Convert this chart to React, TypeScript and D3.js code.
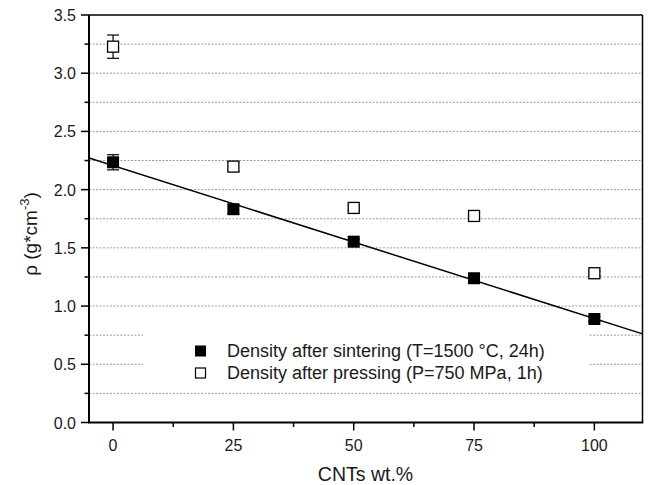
import React from "react";
import * as d3 from "d3";

const cntLevels = [0, 25, 50, 75, 100];
const sinteredDensity = [2.235, 1.832, 1.553, 1.239, 0.889];
const sinteredError = [0.065, 0.04, 0.02, 0.02, 0.02];
const pressedDensity = [3.228, 2.198, 1.843, 1.774, 1.282];
const pressedError = [0.1, 0.04, 0.02, 0.02, 0.02];
const xTicks = [0, 25, 50, 75, 100];
const xMinorTicks = [12.5, 37.5, 62.5, 87.5];
const yTicks = [0.0, 0.5, 1.0, 1.5, 2.0, 2.5, 3.0, 3.5];
const yMinorTicks = [0.25, 0.75, 1.25, 1.75, 2.25, 2.75, 3.25];
const gridLevels = [0.25, 0.5, 0.75, 1.0, 1.25, 1.5, 1.75, 2.0, 2.25, 2.5, 2.75, 3.0, 3.25];
const legendLabels = [
  "Density after sintering (T=1500 °C, 24h)",
  "Density after pressing (P=750 MPa, 1h)",
];

const W = 649;
const H = 485;
const L = 89;
const R = 642.5;
const T = 15;
const B = 422.5;
const FONT = "'Liberation Sans', Arial, sans-serif";

export default function App() {
  const x = d3.scaleLinear().domain([-5, 110]).range([L, R]);
  const y = d3.scaleLinear().domain([0, 3.5]).range([B, T]);

  // linear fit of sintered data
  const mx = d3.mean(cntLevels) as number;
  const my = d3.mean(sinteredDensity) as number;
  let num = 0;
  let den = 0;
  cntLevels.forEach((c, i) => {
    num += (c - mx) * (sinteredDensity[i] - my);
    den += (c - mx) * (c - mx);
  });
  const slope = num / den;
  const intercept = my - slope * mx;
  const fitLine = d3
    .line<number>()
    .x((d) => x(d))
    .y((d) => y(intercept + slope * d));

  const ms = 12;
  const capW = 12;

  // legend box region (covers gridlines)
  const legX0 = 143;
  const legX1 = 588;
  const legY0 = y(0.86);
  const legY1 = y(0.38);

  const errorBar = (cx: number, v: number, e: number, key: string) => (
    <g key={key} stroke="#000" strokeWidth={1.2}>
      <line x1={x(cx)} x2={x(cx)} y1={y(v + e)} y2={y(v - e)} />
      <line x1={x(cx) - capW / 2} x2={x(cx) + capW / 2} y1={y(v + e)} y2={y(v + e)} />
      <line x1={x(cx) - capW / 2} x2={x(cx) + capW / 2} y1={y(v - e)} y2={y(v - e)} />
    </g>
  );

  return (
    <svg
      width={W}
      height={H}
      style={{ position: "absolute", left: 0, top: 0, background: "#fff" }}
      fontFamily={FONT}
    >
      <rect x={0} y={0} width={W} height={H} fill="#fff" />
      <defs>
        <clipPath id="plotClip">
          <rect x={L} y={T} width={R - L} height={B - T} />
        </clipPath>
      </defs>
      {/* gridlines */}
      <g stroke="#9a9a9a" strokeWidth={1} strokeDasharray="2,1.5">
        {gridLevels.map((g) => (
          <line key={g} x1={L} x2={R} y1={y(g)} y2={y(g)} />
        ))}
      </g>
      {/* legend background */}
      <rect x={legX0} y={legY0} width={legX1 - legX0} height={legY1 - legY0} fill="#fff" />
      {/* fit line */}
      <path
        d={fitLine([-5, 110]) || ""}
        stroke="#000"
        strokeWidth={1.5}
        fill="none"
        clipPath="url(#plotClip)"
      />
      {/* pressed */}
      {cntLevels.map((c, i) => errorBar(c, pressedDensity[i], pressedError[i], "pe" + i))}
      {cntLevels.map((c, i) => (
        <rect
          key={"p" + i}
          x={x(c) - ms / 2 + 0.5}
          y={y(pressedDensity[i]) - ms / 2 + 0.5}
          width={ms - 1}
          height={ms - 1}
          fill="#fff"
          stroke="#000"
          strokeWidth={1.3}
        />
      ))}
      {/* sintered */}
      {cntLevels.map((c, i) => errorBar(c, sinteredDensity[i], sinteredError[i], "se" + i))}
      {cntLevels.map((c, i) => (
        <rect
          key={"s" + i}
          x={x(c) - ms / 2}
          y={y(sinteredDensity[i]) - ms / 2}
          width={ms}
          height={ms}
          fill="#000"
        />
      ))}
      {/* frame */}
      <g stroke="#000" fill="none">
        <line x1={L} x2={R} y1={T} y2={T} strokeWidth={1.5} />
        <line x1={R} x2={R} y1={T} y2={B} strokeWidth={1.5} />
        <line x1={L} x2={L} y1={T} y2={B} strokeWidth={2} />
        <line x1={L - 1} x2={R + 0.75} y1={B} y2={B} strokeWidth={2} />
      </g>
      {/* ticks */}
      <g stroke="#000" strokeWidth={1.5}>
        {xTicks.map((t) => (
          <line key={t} x1={x(t)} x2={x(t)} y1={B} y2={B + 8} />
        ))}
        {xMinorTicks.map((t) => (
          <line key={t} x1={x(t)} x2={x(t)} y1={B} y2={B + 4.5} />
        ))}
        {yTicks.map((t) => (
          <line key={t} x1={L - 8} x2={L} y1={y(t)} y2={y(t)} />
        ))}
        {yMinorTicks.map((t) => (
          <line key={t} x1={L - 4.5} x2={L} y1={y(t)} y2={y(t)} />
        ))}
      </g>
      <g fontSize={16} fill="#1a1a1a">
        {xTicks.map((t) => (
          <text key={t} x={x(t)} y={B + 28} textAnchor="middle">
            {d3.format("d")(t)}
          </text>
        ))}
        {yTicks.map((t) => (
          <text key={t} x={L - 13} y={y(t) + 6} textAnchor="end">
            {d3.format(".1f")(t)}
          </text>
        ))}
      </g>
      {/* axis titles */}
      <text x={365.5} y={481} textAnchor="middle" fontSize={19.5} fill="#1a1a1a">
        CNTs wt.%
      </text>
      <text
        transform="translate(37,234) rotate(-90)"
        textAnchor="middle"
        fontSize={19}
        fill="#1a1a1a"
      >
        ρ (g*cm
        <tspan dy={-8} fontSize={13}>
          -3
        </tspan>
        <tspan dy={8}>)</tspan>
      </text>
      {/* legend */}
      <rect x={195} y={345.5} width={11} height={11} fill="#000" />
      <rect x={195.5} y={368} width={10} height={10} fill="#fff" stroke="#000" strokeWidth={1.2} />
      <g fontSize={18} fill="#1a1a1a">
        <text x={227} y={356.5}>
          {legendLabels[0]}
        </text>
        <text x={227} y={378.5}>
          {legendLabels[1]}
        </text>
      </g>
    </svg>
  );
}
